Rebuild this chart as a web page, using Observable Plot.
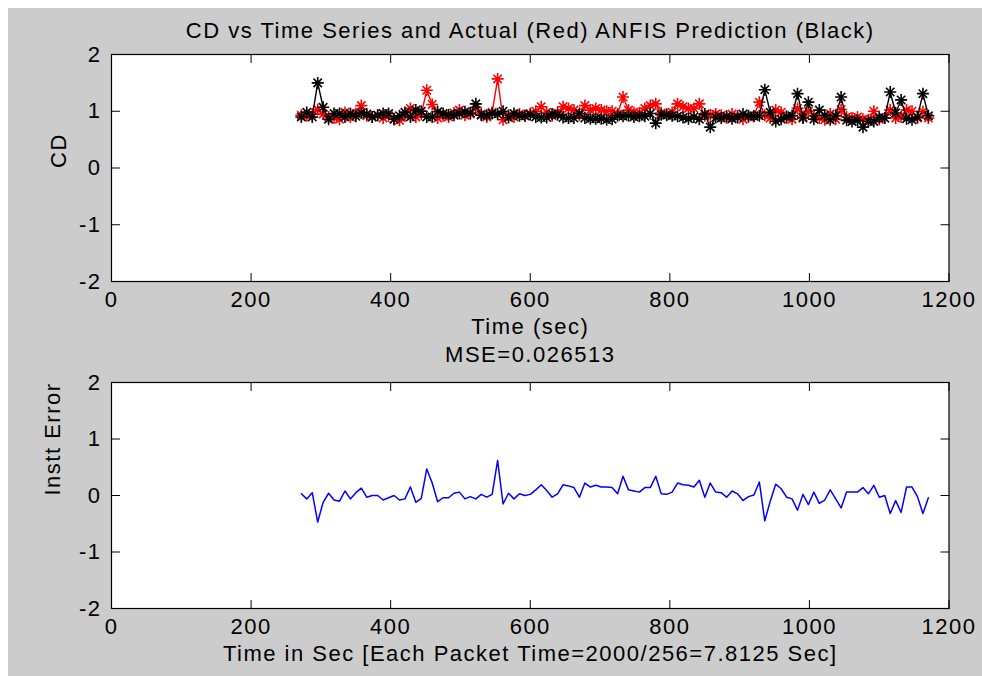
<!DOCTYPE html>
<html>
<head>
<meta charset="utf-8">
<script src="https://cdn.jsdelivr.net/npm/d3@7"></script>
<script src="https://cdn.jsdelivr.net/npm/@observablehq/plot@0.6"></script>
<style>
  body { margin: 0; background: white; }
  #fig { position: relative; width: 982px; height: 676px; background: white; overflow: hidden; }
  #bg { position: absolute; left: 8px; top: 8px; width: 974px; height: 668px; background: #cccccc; }
  #p1, #p2 { position: absolute; left: 0; }
  #p1 { top: 0; }
  #p2 { top: 338px; }
</style>
</head>
<body>
<div id="fig">
  <div id="bg"></div>
  <div id="p1"></div>
  <div id="p2"></div>
</div>
<script>
// Sampling: first packet time and packet interval
const t0 = 272;
const packetTime = 2000 / 256;

// Actual CD (red)
const actual = [0.93,0.92,0.95,1.03,0.95,0.90,0.88,0.86,0.98,0.90,
 0.96,1.10,0.92,0.90,0.93,0.88,0.92,0.86,0.84,0.92,
 1.05,0.90,0.95,1.37,1.12,0.88,0.92,0.90,0.97,1.02,
 0.93,0.95,1.07,0.95,0.90,0.98,1.57,0.85,0.93,0.90,
 0.95,0.92,0.96,1.00,1.08,0.98,0.92,0.97,1.08,1.05,
 1.02,0.93,1.10,1.02,1.05,1.02,1.00,1.00,0.95,1.25,
 1.02,0.98,0.97,1.05,1.10,1.13,0.97,0.95,0.98,1.13,
 1.08,1.05,1.05,1.13,0.92,0.94,0.95,0.93,0.88,0.95,
 0.92,0.86,0.90,0.92,1.16,0.93,0.88,1.02,0.98,0.88,
 0.86,1.05,0.90,1.00,0.92,0.88,0.85,0.95,0.86,1.03,
 0.90,0.88,0.90,0.86,0.85,1.00,0.86,0.88,1.02,0.88,
 0.90,1.02,1.00,0.88,0.99,0.88];

// ANFIS prediction (black)
const predicted = [0.90,0.98,0.90,1.50,1.07,0.86,0.96,0.96,0.90,0.96,
 0.91,0.97,0.95,0.90,0.93,0.96,0.96,0.86,0.92,0.98,
 0.90,1.02,1.00,0.90,0.90,0.99,0.96,0.94,0.93,0.96,
 0.99,0.97,1.13,0.93,0.93,0.96,0.95,1.00,0.89,0.96,
 0.92,0.92,0.94,0.90,0.89,0.89,0.95,0.94,0.89,0.88,
 0.88,0.96,0.88,0.87,0.87,0.87,0.85,0.86,0.92,0.91,
 0.92,0.90,0.91,0.91,0.96,0.79,0.94,0.93,0.92,0.91,
 0.89,0.87,0.90,0.86,0.95,0.72,0.89,0.88,0.91,0.87,
 0.89,0.95,0.92,0.91,0.92,1.38,0.98,0.82,0.86,0.91,
 0.92,1.31,0.88,1.16,0.86,1.02,0.93,0.85,0.92,1.25,
 0.84,0.82,0.84,0.72,0.82,0.82,0.89,0.88,1.34,0.97,
 1.20,0.87,0.85,0.90,1.31,0.92];

// Instantaneous error (blue)
const instError = [0.03,-0.06,0.05,-0.47,-0.12,0.04,-0.08,-0.10,0.08,-0.06,
 0.05,0.13,-0.03,0.00,0.00,-0.08,-0.04,0.00,-0.08,-0.06,
 0.15,-0.12,-0.05,0.47,0.22,-0.11,-0.04,-0.04,0.04,0.06,
 -0.06,-0.02,-0.06,0.02,-0.03,0.02,0.62,-0.15,0.04,-0.06,
 0.03,0.00,0.02,0.10,0.19,0.09,-0.03,0.03,0.19,0.17,
 0.14,-0.03,0.22,0.15,0.18,0.15,0.15,0.14,0.03,0.34,
 0.10,0.08,0.06,0.14,0.14,0.34,0.03,0.02,0.06,0.22,
 0.19,0.18,0.15,0.27,-0.03,0.22,0.06,0.05,-0.03,0.08,
 0.03,-0.09,-0.02,0.01,0.24,-0.45,-0.10,0.20,0.12,-0.03,
 -0.06,-0.26,0.02,-0.16,0.06,-0.14,-0.08,0.10,-0.06,-0.22,
 0.06,0.06,0.06,0.14,0.03,0.18,-0.03,0.00,-0.32,-0.09,
 -0.30,0.15,0.15,-0.02,-0.32,-0.04];

const xTicks = [0, 200, 400, 600, 800, 1000, 1200];
const yTicks = [-2, -1, 0, 1, 2];

const titleTop = "CD vs Time Series and Actual (Red) ANFIS Prediction (Black)";
const xLabelTop = "Time (sec)";
const yLabelTop = "CD";
const titleBottom = "MSE=0.026513";
const xLabelBottom = "Time in Sec [Each Packet Time=2000/256=7.8125 Sec]";
const yLabelBottom = "Instt Error";

const rows = actual.map((a, i) => ({
  t: t0 + i * packetTime,
  actual: a,
  predicted: predicted[i],
  error: instError[i]
}));

// MATLAB-like '*' marker
const asterisk = {
  draw(ctx, size) {
    const r = Math.sqrt(size / Math.PI);
    const d = r * 0.7;
    ctx.moveTo(-r, 0); ctx.lineTo(r, 0);
    ctx.moveTo(0, -r); ctx.lineTo(0, r);
    ctx.moveTo(-d, -d); ctx.lineTo(d, d);
    ctx.moveTo(-d, d); ctx.lineTo(d, -d);
  }
};

const FS = 22;
const common = {
  width: 982,
  height: 338,
  marginLeft: 111,
  marginRight: 33.5,
  x: { domain: [0, 1200] },
  y: { domain: [-2, 2] },
  style: {
    background: "transparent",
    fontFamily: "'Liberation Sans', Arial, sans-serif",
    fontSize: FS + "px",
    letterSpacing: "1.5px",
    color: "black",
    overflow: "visible"
  }
};

function frameMarks(title, titleDy, xLabel, yLabel, yLabelDx) {
  const none = () => "";
  const txt = { fontSize: FS, fill: "black", lineAnchor: "middle" };
  return [
    Plot.axisX(xTicks, { anchor: "bottom", tickSize: 8, dy: -8, tickFormat: none, label: null, stroke: "black" }),
    Plot.axisX(xTicks, { anchor: "top", tickSize: 8, dy: 8, tickFormat: none, label: null, stroke: "black" }),
    Plot.axisY(yTicks, { anchor: "left", tickSize: 9, dx: 9, tickFormat: none, label: null, stroke: "black" }),
    Plot.axisY(yTicks, { anchor: "right", tickSize: 9, dx: -9, tickFormat: none, label: null, stroke: "black" }),
    Plot.frame({ stroke: "black", strokeWidth: 1.2 }),
    Plot.text(xTicks, { ...txt, x: d => d, frameAnchor: "bottom", dy: 18.5, text: d => String(d) }),
    Plot.text(yTicks, { ...txt, y: d => d, frameAnchor: "left", dx: -10, textAnchor: "end", text: d => String(d) }),
    Plot.text([title], { ...txt, text: d => d, frameAnchor: "top", dy: titleDy }),
    Plot.text([xLabel], { ...txt, text: d => d, frameAnchor: "bottom", dy: 45 }),
    Plot.text([yLabel], { ...txt, text: d => d, frameAnchor: "left", dx: yLabelDx, rotate: -90 })
  ];
}

const topChart = Plot.plot({
  ...common,
  marginTop: 54,
  marginBottom: 57,
  marks: [
    Plot.frame({ fill: "white" }),
    Plot.line(rows, { x: "t", y: "actual", stroke: "#ff0000", strokeWidth: 1.4 }),
    Plot.dot(rows, { x: "t", y: "actual", symbol: asterisk, r: 6, stroke: "#ff0000", fill: "none", strokeWidth: 1.6 }),
    Plot.line(rows, { x: "t", y: "predicted", stroke: "black", strokeWidth: 1.4 }),
    Plot.dot(rows, { x: "t", y: "predicted", symbol: asterisk, r: 6, stroke: "black", fill: "none", strokeWidth: 1.6 }),
    ...frameMarks(titleTop, -24, xLabelTop, yLabelTop, -53)
  ]
});

const bottomChart = Plot.plot({
  ...common,
  marginTop: 44,
  marginBottom: 68,
  marks: [
    Plot.frame({ fill: "white" }),
    Plot.line(rows, { x: "t", y: "error", stroke: "#0000ff", strokeWidth: 1.5 }),
    ...frameMarks(titleBottom, -28, xLabelBottom, yLabelBottom, -59)
  ]
});

document.getElementById("p1").appendChild(topChart);
document.getElementById("p2").appendChild(bottomChart);
</script>
</body>
</html>
